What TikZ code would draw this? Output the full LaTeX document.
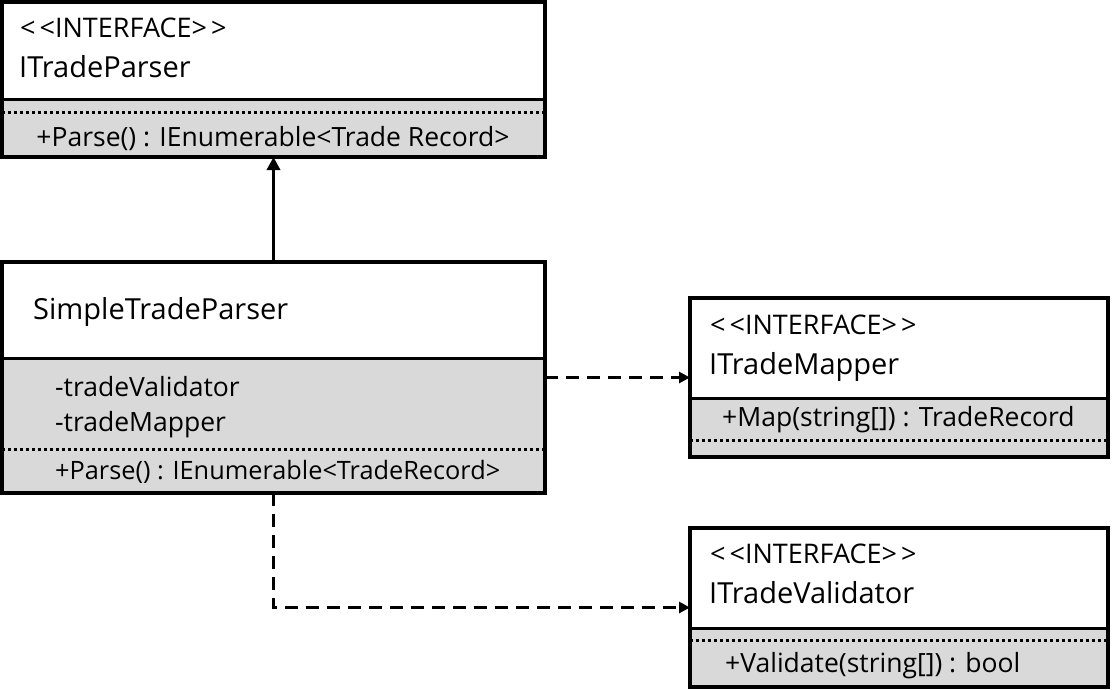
\documentclass[tikz,border=0pt]{standalone}
\usepackage{fontspec}
\setmainfont{Open Sans}
\usetikzlibrary{arrows.meta}
\definecolor{umlgray}{HTML}{D9D9D9}
\newcommand{\stereotxt}{<\kern4pt<INTERFACE>\kern4pt>}
\tikzset{
  x=1pt, y=-1pt,
  box/.style={draw, line width=4pt, anchor=north west, inner sep=0pt, outer sep=0pt},
  cmp/.style={fill=umlgray},
  sepline/.style={line width=3pt},
  dotline/.style={line width=3pt, dash pattern=on 3pt off 3pt},
  stereo/.style={anchor=base west, inner sep=0pt, font=\fontsize{27}{30}\selectfont},
  cname/.style={anchor=base west, inner sep=0pt, font=\fontsize{29}{32}\selectfont},
  member/.style={anchor=base west, inner sep=0pt, font=\fontsize{26.5}{30}\selectfont},
  realize/.style={line width=3.5pt, -{Triangle[length=13pt,width=13pt]}},
  dep/.style={line width=3.5pt, dash pattern=on 13pt off 8pt, -{Triangle[length=11pt,width=11pt]}}
}
\begin{document}
\begin{tikzpicture}
\useasboundingbox (0,0) rectangle (1112,689);
% ITradeParser
\fill[cmp] (2,99) rectangle (545,157);
\draw[sepline] (2,99) -- (545,99);
\draw[dotline] (2,112) -- (545,112);
\node[box, minimum width=543pt, minimum height=155pt] (p) at (2,2) {};
\node[stereo] (p1) at (20,37) {\stereotxt};
\node[cname] (p2) at (19,77) {ITradeParser};
\node[member, anchor=base] (p3) at (273,146) {+Parse() : IEnumerable<Trade Record>};
% SimpleTradeParser
\fill[cmp] (2,358) rectangle (545,493);
\draw[sepline] (2,358) -- (545,358);
\draw[dotline] (2,449) -- (545,449);
\node[box, minimum width=543pt, minimum height=231pt] (s) at (2,262) {};
\node[cname] (s1) at (33,319) {SimpleTradeParser};
\node[member] (s2) at (55,396) {-tradeValidator};
\node[member] (s3) at (55,431) {-tradeMapper};
\node[member, font=\fontsize{25.3}{30}\selectfont] (s4) at (55,479) {+Parse() : IEnumerable<TradeRecord>};
% ITradeMapper
\fill[cmp] (690,398) rectangle (1108,457);
\draw[sepline] (690,398) -- (1108,398);
\draw[dotline] (690,440) -- (1108,440);
\node[box, minimum width=418pt, minimum height=159pt] (m) at (690,298) {};
\node[stereo] (m1) at (710,334) {\stereotxt};
\node[cname] (m2) at (709,374) {ITradeMapper};
\node[member] (m3) at (722,426) {+Map(string[]) : TradeRecord};
% ITradeValidator
\fill[cmp] (690,628) rectangle (1108,687);
\draw[sepline] (690,628) -- (1108,628);
\draw[dotline] (690,640) -- (1108,640);
\node[box, minimum width=418pt, minimum height=159pt] (v) at (690,528) {};
\node[stereo] (v1) at (710,563) {\stereotxt};
\node[cname] (v2) at (709,603) {ITradeValidator};
\node[member] (v3) at (725,672) {+Validate(string[]) : bool};
% connectors
\draw[realize] (s.north) -- (p.south);
\draw[dep] (s.east) -- (m.west);
\draw[dep] (s.south) |- (v.west);
\end{tikzpicture}
\end{document}
